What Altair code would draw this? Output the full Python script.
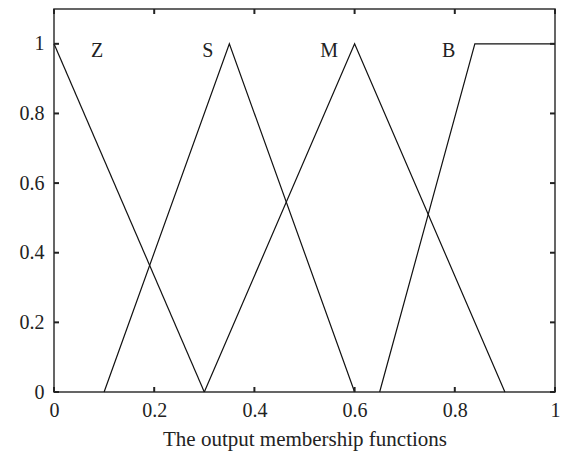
import altair as alt
import pandas as pd

# Membership function vertices (x, degree)
z_x = [0.0, 0.3]
z_y = [1.0, 0.0]
s_x = [0.1, 0.35, 0.6]
s_y = [0.0, 1.0, 0.0]
m_x = [0.3, 0.6, 0.9]
m_y = [0.0, 1.0, 0.0]
b_x = [0.65, 0.84, 1.0]
b_y = [0.0, 1.0, 1.0]

label_names = ["Z", "S", "M", "B"]
label_x = [0.086, 0.307, 0.549, 0.788]
label_y = [0.98, 0.98, 0.98, 0.98]

x_ticks = [0, 0.2, 0.4, 0.6, 0.8, 1.0]
y_ticks = [0, 0.2, 0.4, 0.6, 0.8, 1.0]

W, H = 501, 383
FONT = "Liberation Serif"

rows = []
for name, xs, ys in [("Z", z_x, z_y), ("S", s_x, s_y), ("M", m_x, m_y), ("B", b_x, b_y)]:
    for i, (xv, yv) in enumerate(zip(xs, ys)):
        rows.append({"set": name, "i": i, "x": xv, "y": yv})
curves = pd.DataFrame(rows)
labels = pd.DataFrame({"name": label_names, "x": label_x, "y": label_y})
xt = pd.DataFrame({"v": x_ticks})
yt = pd.DataFrame({"v": y_ticks})

xscale = alt.Scale(domain=[0, 1], nice=False, zero=False)
yscale = alt.Scale(domain=[0, 1.1], nice=False, zero=False)

xaxis = alt.Axis(values=x_ticks, format="~g", title="The output membership functions",
                 domain=False, ticks=False, grid=False, labelPadding=8, labelFlush=False,
                 labelFontSize=20, titleFontSize=21, titlePadding=8,
                 labelFont=FONT, titleFont=FONT, labelColor="#222", titleColor="#222",
                 titleFontWeight="normal")
yaxis = alt.Axis(values=y_ticks, format="~g", title=None, labelFlush=False,
                 domain=False, ticks=False, grid=False, labelPadding=10,
                 labelFontSize=20, labelFont=FONT, labelColor="#222")

lines = alt.Chart(curves).mark_line(color="#111", strokeWidth=1.2).encode(
    x=alt.X("x:Q", scale=xscale, axis=xaxis),
    y=alt.Y("y:Q", scale=yscale, axis=yaxis),
    detail="set:N",
    order="i:Q",
)

text = alt.Chart(labels).mark_text(font=FONT, fontSize=20, color="#222", baseline="middle").encode(
    x=alt.X("x:Q", scale=xscale),
    y=alt.Y("y:Q", scale=yscale),
    text="name:N",
)

tick_style = dict(color="#222", strokeWidth=2)
bottom_ticks = alt.Chart(xt).mark_rule(**tick_style).encode(
    x=alt.X("v:Q", scale=xscale), y=alt.value(H), y2=alt.value(H - 5))
top_ticks = alt.Chart(xt).mark_rule(**tick_style).encode(
    x=alt.X("v:Q", scale=xscale), y=alt.value(0), y2=alt.value(5))
left_ticks = alt.Chart(yt).mark_rule(**tick_style).encode(
    y=alt.Y("v:Q", scale=yscale), x=alt.value(0), x2=alt.value(5))
right_ticks = alt.Chart(yt).mark_rule(**tick_style).encode(
    y=alt.Y("v:Q", scale=yscale), x=alt.value(W), x2=alt.value(W - 5))

chart = alt.layer(lines, text, bottom_ticks, top_ticks, left_ticks, right_ticks).properties(
    width=W, height=H,
    autosize=alt.AutoSizeParams(type="none"),
    padding={"left": 54, "top": 9, "right": 7, "bottom": 63},
    background="white",
).configure_view(stroke="#333", strokeWidth=1.5)

chart.save("out.html", embed_options={"renderer": "svg", "actions": False})
